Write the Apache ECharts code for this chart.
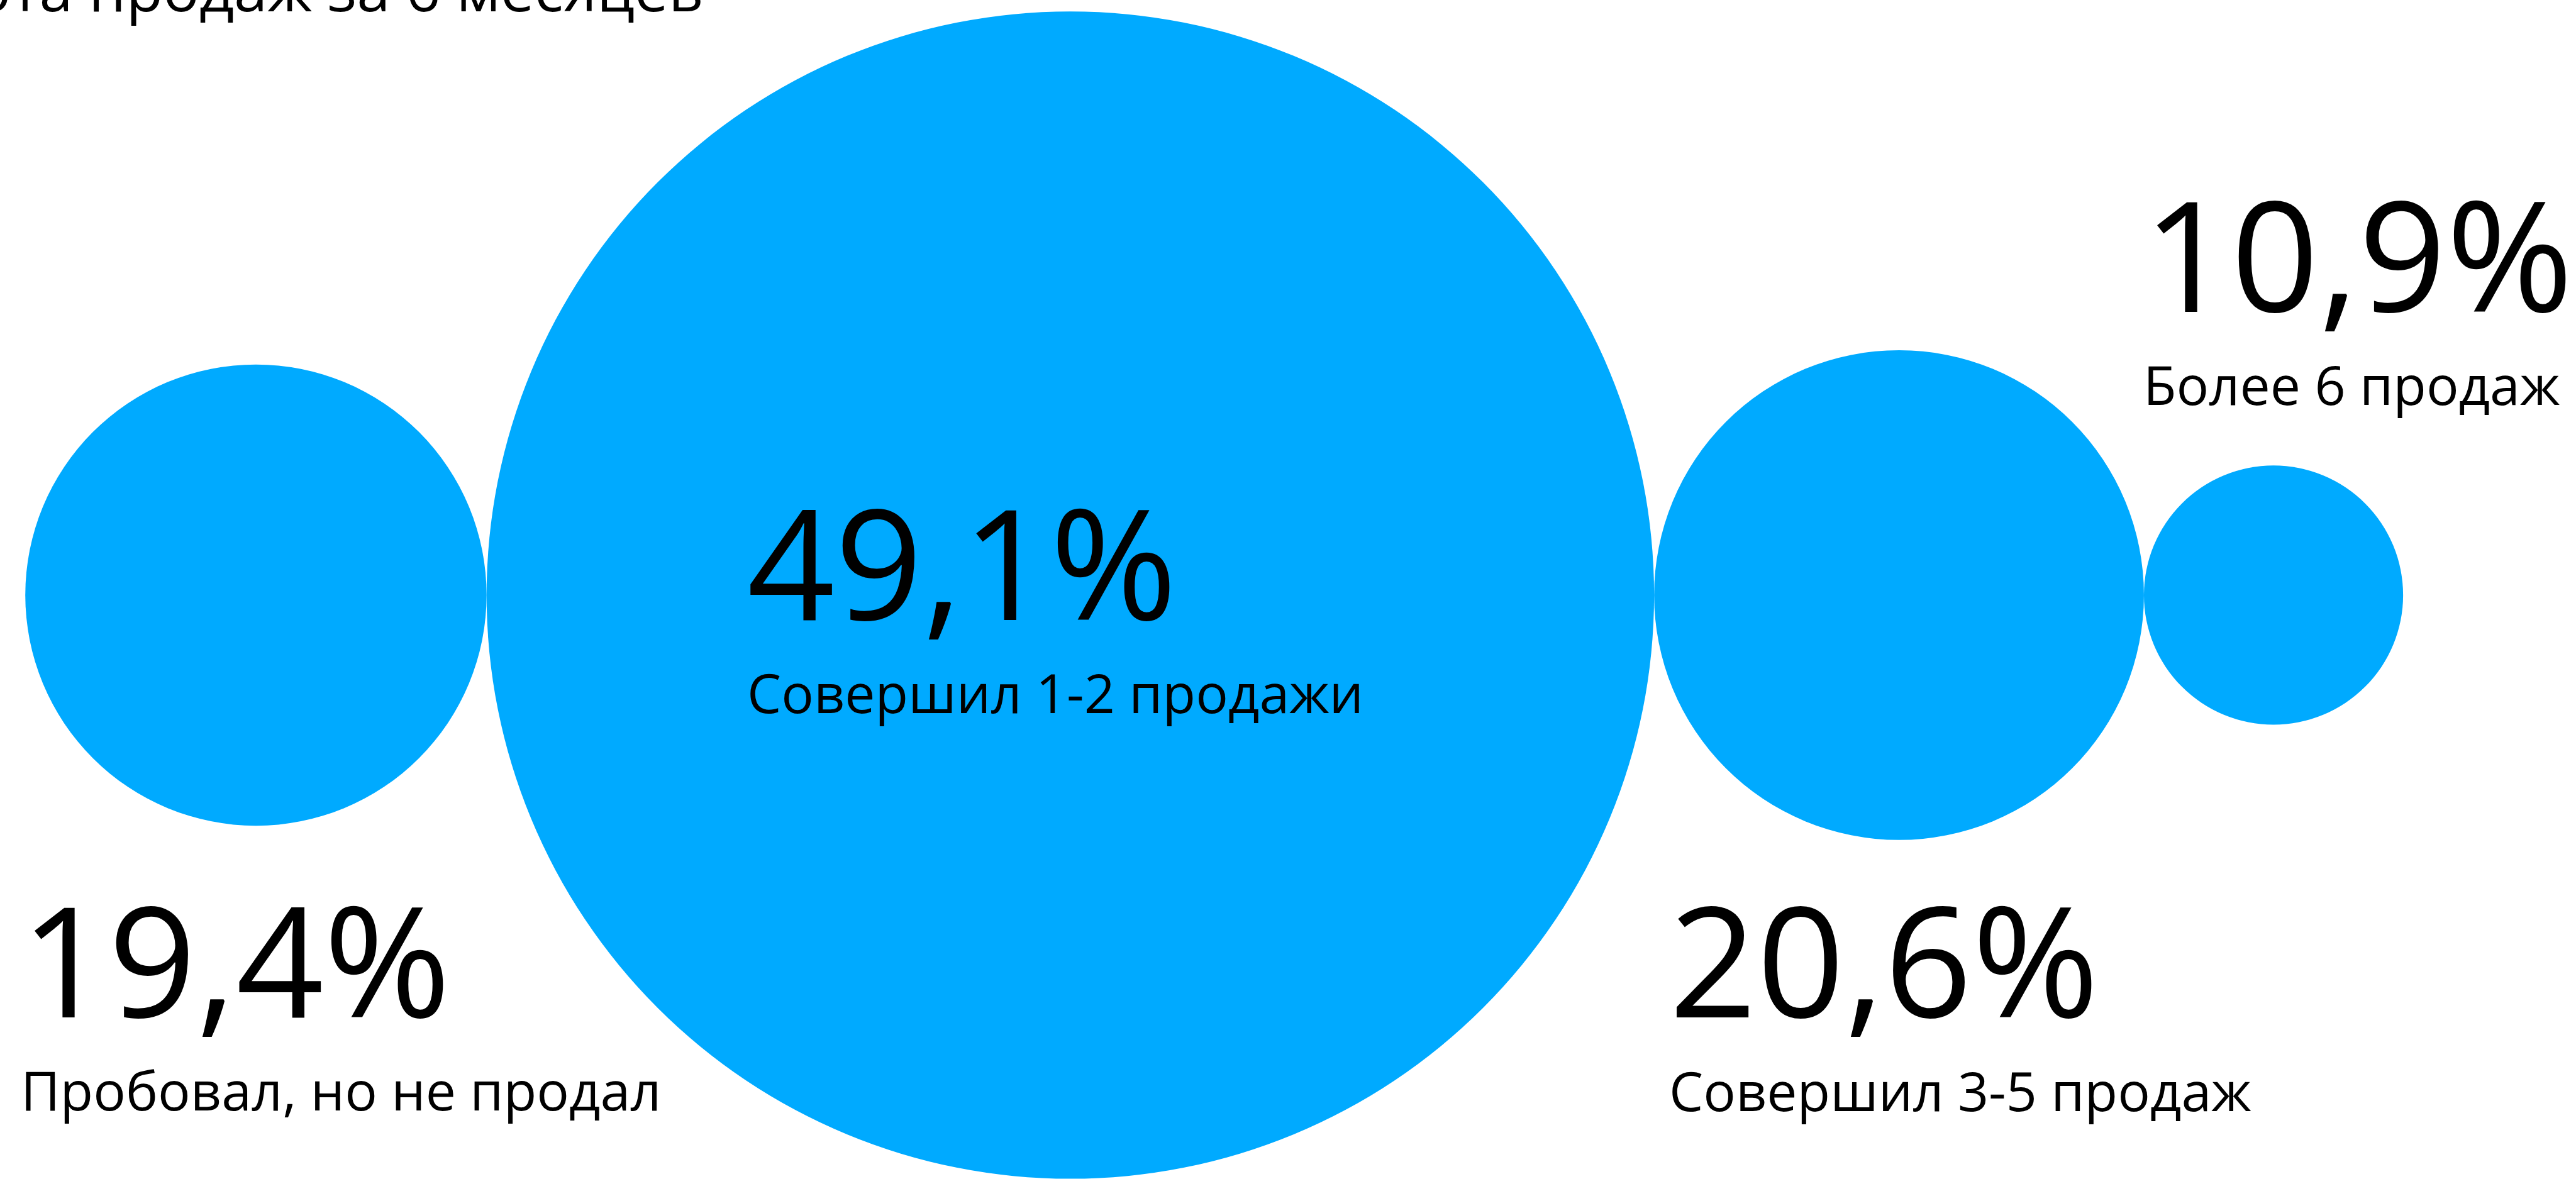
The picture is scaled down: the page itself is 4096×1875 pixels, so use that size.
<!DOCTYPE html>
<html>
<head>
<meta charset="utf-8">
<script src="https://cdn.jsdelivr.net/npm/echarts@6/dist/echarts.min.js"></script>
<style>
  html, body { margin: 0; padding: 0; background: #fff; }
  #chart { width: 4096px; height: 1875px; }
</style>
</head>
<body>
<div id="chart"></div>
<script>
// Частота продаж - круги, радиус пропорционален доле
const categories = ['Пробовал, но не продал', 'Совершил 1-2 продажи', 'Совершил 3-5 продаж', 'Более 6 продаж']
const shares = [19.4, 49.1, 20.6, 10.9]
const shareLabels = ['19,4%', '49,1%', '20,6%', '10,9%']
const title = 'Частота продаж за 6 месяцев'

const FONT = '"Open Sans", "Noto Sans", sans-serif'
const BLUE = '#00AAFF'
const BIG = 244
const SMALL = 86
const TITLE = 96
const gridLeft = 40.2
const gridRight = 274.9

const chart = echarts.init(document.getElementById('chart'))
const total = shares.reduce((a, b) => a + b, 0)
const pxPerUnit = (chart.getWidth() - gridLeft - gridRight) / (2 * total)

// центры: круги касаются друг друга
let acc = 0
const points = shares.map((v, i) => {
  const x = 2 * acc + v
  acc += v
  return { name: categories[i], value: [x, 0, v] }
})

// y задаётся по базовой линии текста
function label(text, x, baseline, size, align) {
  return {
    type: 'text', x, y: baseline - 0.3 * size, z: 100,
    style: { text, fill: '#000', font: size + 'px ' + FONT, align: align || 'left', verticalAlign: 'middle' }
  }
}

chart.setOption({
  animation: false,
  backgroundColor: '#fff',
  grid: { left: gridLeft, right: gridRight, top: 846.4, height: 200 },
  xAxis: { type: 'value', min: 0, max: 2 * total, show: false },
  yAxis: { type: 'value', min: -1, max: 1, show: false },
  series: [
    {
      type: 'scatter',
      data: points,
      symbol: 'circle',
      symbolSize: (val) => 2 * val[2] * pxPerUnit,
      itemStyle: { color: BLUE, opacity: 1 },
      silent: true
    }
  ],
  graphic: [
    label(title, 1118, 19, TITLE, 'right'),
    label(shareLabels[0], 33, 1622, BIG),
    label(categories[0], 33, 1767, SMALL),
    label(shareLabels[1], 1188, 990, BIG),
    label(categories[1], 1188, 1135, SMALL),
    label(shareLabels[2], 2654, 1622, BIG),
    label(categories[2], 2654, 1768, SMALL),
    label(shareLabels[3], 3408, 500, BIG),
    label(categories[3], 3408, 645, SMALL)
  ]
})
</script>
</body>
</html>
